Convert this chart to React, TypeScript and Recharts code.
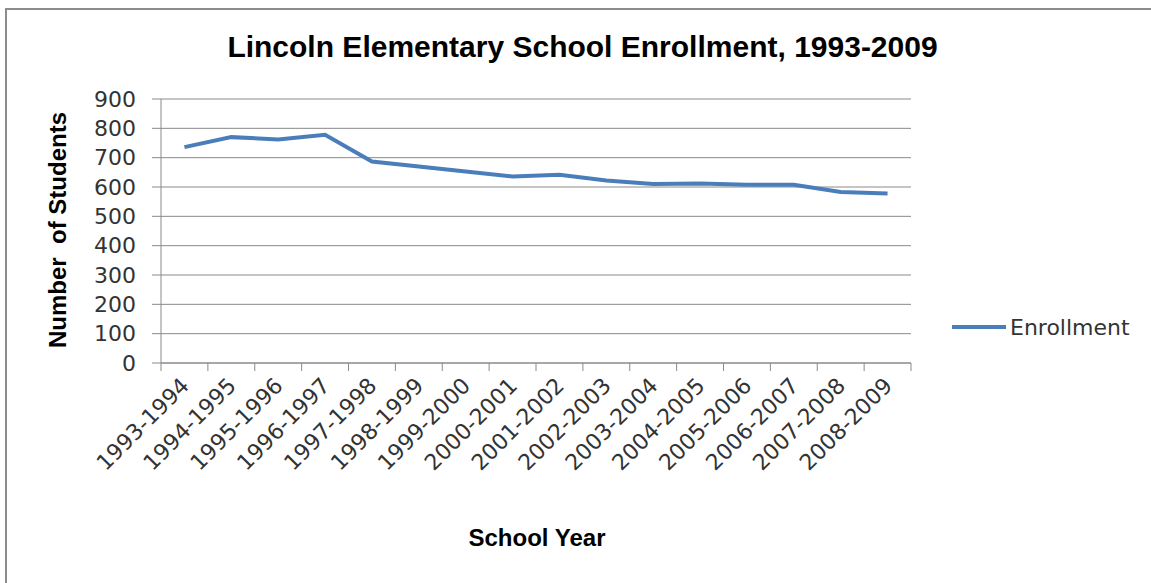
import { LineChart, Line, XAxis, YAxis, CartesianGrid } from 'recharts';

const schoolYears = [
  '1993-1994', '1994-1995', '1995-1996', '1996-1997', '1997-1998', '1998-1999',
  '1999-2000', '2000-2001', '2001-2002', '2002-2003', '2003-2004', '2004-2005',
  '2005-2006', '2006-2007', '2007-2008', '2008-2009',
];
const enrollment = [736, 770, 762, 778, 687, 670, 653, 636, 642, 622, 610, 612, 608, 608, 583, 578];
const yTicks = [0, 100, 200, 300, 400, 500, 600, 700, 800, 900];

const chartData = schoolYears.map((year, i) => ({ year, enrollment: enrollment[i] }));

const tickFont = '"DejaVu Sans", sans-serif';
const boldFont = '"Liberation Sans", Arial, sans-serif';
const gridColor = '#8a8a8a';
const lineColor = '#4a7ebb';

// plot box (Excel-like): x 161..911, y 99..363
const PLOT_LEFT = 161;
const PLOT_RIGHT = 911;
const BAND = (PLOT_RIGHT - PLOT_LEFT) / schoolYears.length;

function YearTick(props: any) {
  const { x, y, payload, index } = props;
  const last = index === schoolYears.length - 1;
  return (
    <g>
      <line x1={x - BAND / 2} y1={y} x2={x - BAND / 2} y2={y + 8} stroke={gridColor} strokeWidth={1} />
      {last && <line x1={x + BAND / 2} y1={y} x2={x + BAND / 2} y2={y + 8} stroke={gridColor} strokeWidth={1} />}
      <g transform={`translate(${x + 6},${y + 24})`}>
        <text
          x={0}
          y={0}
          textAnchor="end"
          transform="rotate(-45)"
          fontFamily={tickFont}
          fontSize={22}
          fill="#333"
        >
          {payload.value}
        </text>
      </g>
    </g>
  );
}

export default function App() {
  return (
    <div
      style={{
        position: 'absolute',
        left: 0,
        top: 0,
        width: 1151,
        height: 583,
        overflow: 'hidden',
        background: '#fff',
      }}
    >
      <div
        style={{
          position: 'absolute',
          left: 5,
          top: 8,
          width: 1200,
          height: 640,
          border: '2px solid #8c8c8c',
        }}
      />
      <div
        style={{
          position: 'absolute',
          left: 0,
          width: 1165,
          top: 30,
          textAlign: 'center',
          fontFamily: boldFont,
          fontWeight: 'bold',
          fontSize: 30,
          color: '#000',
        }}
      >
        Lincoln Elementary School Enrollment, 1993-2009
      </div>
      <div
        style={{
          position: 'absolute',
          left: 58 - 150,
          top: 230 - 14,
          width: 300,
          textAlign: 'center',
          transform: 'rotate(-90deg)',
          fontFamily: boldFont,
          fontWeight: 'bold',
          fontSize: 24,
          whiteSpace: 'pre',
          color: '#000',
        }}
      >
        {'Number  of Students'}
      </div>
      <div
        style={{
          position: 'absolute',
          left: 537 - 150,
          top: 524,
          width: 300,
          textAlign: 'center',
          fontFamily: boldFont,
          fontWeight: 'bold',
          fontSize: 24,
          color: '#000',
        }}
      >
        School Year
      </div>
      <div style={{ position: 'absolute', left: 0, top: 0 }}>
        <LineChart
          width={1151}
          height={583}
          data={chartData}
          margin={{ top: 99, right: 1151 - PLOT_RIGHT, bottom: 0, left: 0 }}
        >
          <CartesianGrid vertical={false} stroke={gridColor} strokeWidth={1} />
          <XAxis
            dataKey="year"
            interval={0}
            height={220}
            padding={{ left: BAND / 2, right: BAND / 2 }}
            axisLine={{ stroke: gridColor }}
            tickLine={false}
            tickSize={0}
            tickMargin={0}
            tick={<YearTick />}
          />
          <YAxis
            width={PLOT_LEFT}
            domain={[0, 900]}
            ticks={yTicks}
            interval={0}
            axisLine={{ stroke: gridColor }}
            tickLine={{ stroke: gridColor }}
            tickSize={9}
            tickMargin={16}
            tick={{ fontFamily: tickFont, fontSize: 22, fill: '#333' }}
          />
          <Line
            type="linear"
            dataKey="enrollment"
            stroke={lineColor}
            strokeWidth={4}
            dot={false}
            isAnimationActive={false}
          />
        </LineChart>
      </div>
      <svg style={{ position: 'absolute', left: 940, top: 310 }} width={211} height={36}>
        <line x1={12} y1={17} x2={66} y2={17} stroke={lineColor} strokeWidth={4} />
        <text x={70} y={25} fontFamily={tickFont} fontSize={22} fill="#333">
          Enrollment
        </text>
      </svg>
    </div>
  );
}
